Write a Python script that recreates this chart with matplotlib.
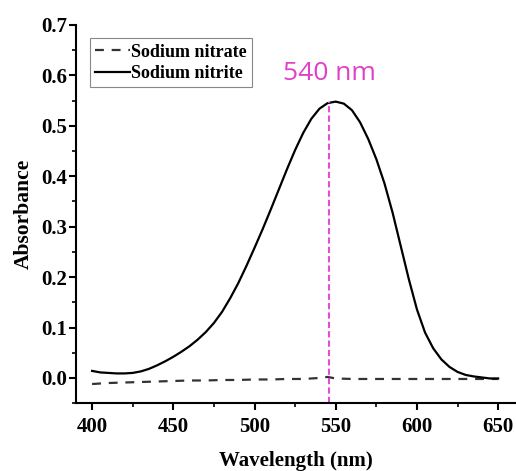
import numpy as np
import matplotlib
matplotlib.use("Agg")
import matplotlib.pyplot as plt
from matplotlib.ticker import MultipleLocator

# Data
wl_nitrite = [400, 405, 410, 415, 420, 425, 430, 435, 440, 445, 450, 455, 460, 465,
              470, 475, 480, 485, 490, 495, 500, 505, 510, 515, 520, 525, 530, 535,
              540, 545, 550, 555, 560, 565, 570, 575, 580, 585, 590, 595, 600, 605,
              610, 615, 620, 625, 630, 635, 640, 645, 650]
abs_nitrite = [0.014, 0.011, 0.010, 0.009, 0.009, 0.010, 0.013, 0.018, 0.025, 0.033,
               0.042, 0.052, 0.063, 0.076, 0.091, 0.109, 0.131, 0.158, 0.188, 0.222,
               0.258, 0.295, 0.334, 0.374, 0.414, 0.452, 0.486, 0.514, 0.534, 0.545,
               0.548, 0.544, 0.531, 0.507, 0.474, 0.434, 0.386, 0.328, 0.262, 0.196,
               0.136, 0.090, 0.059, 0.037, 0.022, 0.012, 0.006, 0.003, 0.001, -0.001,
               -0.001]

wl_nitrate = [400, 410, 420, 430, 440, 450, 460, 470, 480, 490, 500, 510, 520, 530,
              540, 545, 550, 560, 570, 580, 590, 600, 610, 620, 630, 640, 650]
abs_nitrate = [-0.012, -0.010, -0.009, -0.008, -0.007, -0.006, -0.005, -0.005, -0.004,
               -0.004, -0.003, -0.003, -0.002, -0.002, 0.000, 0.002, -0.001, -0.002,
               -0.002, -0.002, -0.002, -0.002, -0.002, -0.002, -0.002, -0.002, -0.002]

peak_wl = 546
peak_abs = 0.548
peak_label = "540 nm"

plt.rcParams["font.family"] = ["Liberation Serif", "DejaVu Serif"]
plt.rcParams["font.weight"] = "bold"

fig = plt.figure(figsize=(5.16, 4.71), dpi=100)
ax = fig.add_axes([0.147, 0.144, 0.853, 0.803])

ax.plot(wl_nitrate, abs_nitrate, color="#333333", linewidth=1.6,
        dashes=(4, 3.5), label="Sodium nitrate")
ax.plot(wl_nitrite, abs_nitrite, color="black", linewidth=1.6, label="Sodium nitrite")

# peak marker
ax.plot([peak_wl, peak_wl], [-0.05, peak_abs], color="#e34fd0", linewidth=1.5,
        dashes=(3, 1.5))
ax.text(peak_wl, 0.603, peak_label, color="#e040c8", fontsize=19, family="Open Sans",
        fontweight="normal", ha="center", va="center")

ax.set_xlim(390, 661)
ax.set_ylim(-0.05, 0.7)
ax.xaxis.set_minor_locator(MultipleLocator(25))
ax.yaxis.set_minor_locator(MultipleLocator(0.05))
ax.set_yticks(np.arange(0, 0.71, 0.1))
ax.set_xticks(np.arange(400, 651, 50))

for s in ["top", "right"]:
    ax.spines[s].set_visible(False)
for s in ["left", "bottom"]:
    ax.spines[s].set_linewidth(1.5)

ax.tick_params(which="major", direction="out", length=5, width=1.5, labelsize=15)
ax.tick_params(axis="x", which="major", pad=5)
ax.tick_params(axis="y", which="major", pad=1.5)
ax.tick_params(which="minor", direction="out", length=3, width=1.2)
for lbl in ax.get_xticklabels() + ax.get_yticklabels():
    lbl.set_fontweight("bold")

ax.set_xlabel("Wavelength (nm)", fontsize=15, fontweight="bold", labelpad=10)
ax.set_ylabel("Absorbance", fontsize=15.5, fontweight="bold", labelpad=5)

leg = ax.legend(loc="upper left", bbox_to_anchor=(0.174, 0.919),
                bbox_transform=fig.transFigure, borderaxespad=0,
                handlelength=1.9, handletextpad=0.1, borderpad=0.3,
                labelspacing=0.25, fancybox=False, framealpha=1,
                prop={"weight": "bold", "size": 13})
leg.get_frame().set_edgecolor("#888888")
leg.get_frame().set_linewidth(0.8)

plt.savefig("out.png", dpi=100)
